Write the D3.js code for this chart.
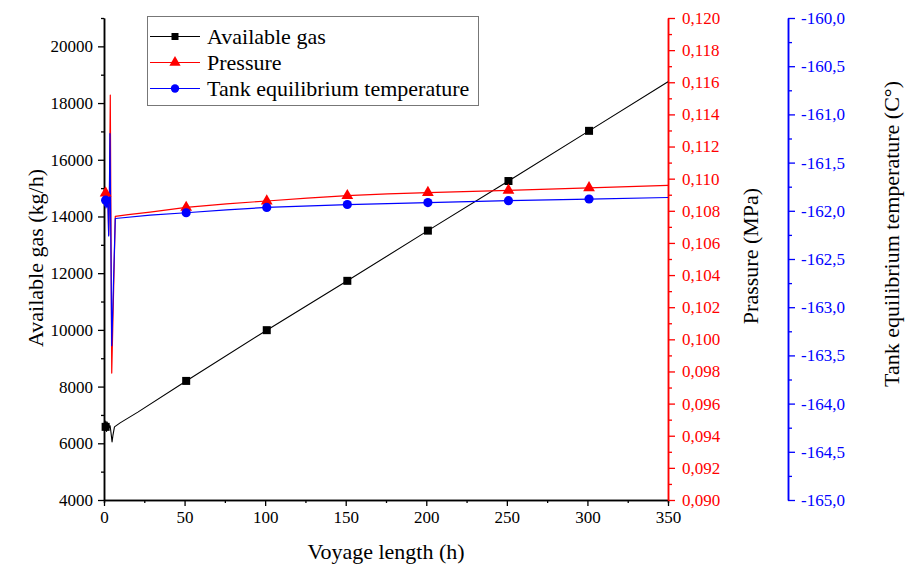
<!DOCTYPE html>
<html><head><meta charset="utf-8">
<script src="https://cdn.jsdelivr.net/npm/d3@7"></script>
<style>
html,body{margin:0;padding:0;background:#fff;}
svg{display:block;}
svg text{font-family:"Liberation Serif","Tinos","DejaVu Serif",serif;}
</style></head>
<body>
<svg id="chart" width="906" height="570"></svg>
<script>
// ---- data ----
const gasHours  = [0, 0.4, 0.8, 1, 1.2, 1.6, 2.0, 2.4, 2.8, 3.3, 3.8, 4.4, 5.0, 5.6, 6.5, 10, 21, 51, 101, 151, 201, 251, 301, 350];
const gasValues = [6600, 6820, 6450, 6580, 6780, 6420, 6750, 6480, 6700, 6550, 6620, 6350, 6050, 6300, 6580, 6720, 7100, 8200, 9990, 11730, 13500, 15250, 17020, 18750];

const presHours  = [0, 0.4, 0.8, 1, 1.2, 1.6, 2.0, 2.4, 2.9, 3.4, 3.9, 4.8, 7, 15, 28.6, 51, 76, 101, 126, 151, 176, 201, 251, 301, 350];
const presValues = [0.1092, 0.1086, 0.1093, 0.1091, 0.1087, 0.1092, 0.1088, 0.1091, 0.1065, 0.1090, 0.1152, 0.0979, 0.10765, 0.10776, 0.10792, 0.10821, 0.10843, 0.10861, 0.10879, 0.10894, 0.10905, 0.10913, 0.10927, 0.10943, 0.10958];

const tempHours  = [0, 0.4, 0.8, 1, 1.2, 1.6, 2.0, 2.4, 2.9, 3.3, 3.7, 4.8, 7, 28.6, 51, 76, 101, 151, 201, 251, 301, 350];
const tempValues = [-161.86, -161.95, -161.84, -161.89, -161.97, -161.88, -161.96, -161.90, -162.26, -161.90, -161.20, -163.40, -162.08, -162.045, -162.02, -161.99, -161.965, -161.935, -161.915, -161.895, -161.878, -161.862];

const markerHours = [1, 51, 101, 151, 201, 251, 301];

const xTicks     = [0, 50, 100, 150, 200, 250, 300, 350];
const xMinor     = [25, 75, 125, 175, 225, 275, 325];
const gasTicks   = [4000, 6000, 8000, 10000, 12000, 14000, 16000, 18000, 20000];
const gasMinor   = [5000, 7000, 9000, 11000, 13000, 15000, 17000, 19000, 21000];
const presTicks  = d3.range(0, 16).map(i => +(0.090 + i * 0.002).toFixed(3));
const presMinor  = d3.range(0, 15).map(i => +(0.091 + i * 0.002).toFixed(3));
const tempTicks  = d3.range(0, 11).map(i => +(-165 + i * 0.5).toFixed(1));
const tempMinor  = d3.range(0, 10).map(i => +(-164.75 + i * 0.5).toFixed(2));

const legendLabels = ["Available gas", "Pressure", "Tank equilibrium temperature"];
const xTitle = "Voyage length (h)";
const gasTitle = "Available gas (kg/h)";
const presTitle = "Prassure (MPa)";
const tempTitle = "Tank equilibrium temperature (C°)";

// ---- layout ----
const FONT = '"Liberation Serif","Tinos","DejaVu Serif",serif';
const L = 104, R = 668, T = 18, B = 500, TX = 788;
const svg = d3.select("#chart");
const x = d3.scaleLinear().domain([0, 350]).range([L, R]);
const yGas = d3.scaleLinear().domain([4000, 21000]).range([B, T]);
const yPres = d3.scaleLinear().domain([0.090, 0.120]).range([B, T]);
const yTemp = d3.scaleLinear().domain([-165, -160]).range([B, T]);

const loc = d3.formatLocale({decimal: ",", thousands: "", grouping: [3], currency: ["", ""], minus: "-"});
const fPres = loc.format(".3f");
const fTemp = loc.format(".1f");

const FS = 17;
function styleAxis(g, color, fs) {
  g.attr("font-family", FONT);
  g.select(".domain").attr("stroke", color).attr("stroke-width", 1.5);
  g.selectAll(".tick line").attr("stroke", color).attr("stroke-width", 1.3);
  g.selectAll(".tick text").attr("fill", color).attr("font-size", fs);
}

// x axis
let g = svg.append("g").attr("transform", `translate(0,${B})`)
  .call(d3.axisBottom(x).tickValues(xMinor).tickSize(3).tickFormat(""));
styleAxis(g, "#000", FS);
g = svg.append("g").attr("transform", `translate(0,${B})`)
  .call(d3.axisBottom(x).tickValues(xTicks).tickSize(6).tickSizeOuter(0).tickPadding(5).tickFormat(d3.format("d")));
styleAxis(g, "#000", FS);

// left gas axis
g = svg.append("g").attr("transform", `translate(${L},0)`)
  .call(d3.axisLeft(yGas).tickValues(gasMinor).tickSize(3).tickSizeOuter(0).tickFormat(""));
styleAxis(g, "#000", FS);
g = svg.append("g").attr("transform", `translate(${L},0)`)
  .call(d3.axisLeft(yGas).tickValues(gasTicks).tickSize(6).tickSizeOuter(0).tickPadding(5).tickFormat(d3.format("d")));
styleAxis(g, "#000", FS);

// red pressure axis
g = svg.append("g").attr("transform", `translate(${R},0)`)
  .call(d3.axisRight(yPres).tickValues(presMinor).tickSize(4).tickSizeOuter(0).tickFormat(""));
styleAxis(g, "#ff0000", FS);
g = svg.append("g").attr("transform", `translate(${R},0)`)
  .call(d3.axisRight(yPres).tickValues(presTicks).tickSize(7).tickSizeOuter(0).tickPadding(7).tickFormat(fPres));
styleAxis(g, "#ff0000", FS);

// blue temperature axis
g = svg.append("g").attr("transform", `translate(${TX},0)`)
  .call(d3.axisRight(yTemp).tickValues(tempMinor).tickSize(4).tickSizeOuter(0).tickFormat(""));
styleAxis(g, "#0000ff", FS);
g = svg.append("g").attr("transform", `translate(${TX},0)`)
  .call(d3.axisRight(yTemp).tickValues(tempTicks).tickSize(7).tickSizeOuter(0).tickPadding(6).tickFormat(fTemp));
styleAxis(g, "#0000ff", FS);

// titles
const TFS = 22;
svg.append("text").attr("x", (L + R) / 2).attr("y", 559).attr("text-anchor", "middle")
  .attr("font-size", TFS).text(xTitle);
function vTitle(cx, cy, txt) {
  svg.append("text").attr("transform", `translate(${cx},${cy}) rotate(-90)`)
    .attr("text-anchor", "middle").attr("dy", "0.35em").attr("font-size", TFS).text(txt);
}
vTitle(35, 258, gasTitle);
vTitle(750, 256, presTitle);
vTitle(891, 234, tempTitle);

// lines
function drawSeries(hours, values, yScale, color, width) {
  const pts = hours.map((h, i) => [h, values[i]]);
  svg.append("path").datum(pts)
    .attr("fill", "none").attr("stroke", color).attr("stroke-width", width)
    .attr("stroke-linejoin", "round")
    .attr("d", d3.line().x(d => x(d[0])).y(d => yScale(d[1])));
  return pts.filter(p => markerHours.includes(p[0]));
}
const gasM = drawSeries(gasHours, gasValues, yGas, "#000", 1.1);
const presM = drawSeries(presHours, presValues, yPres, "#ff0000", 1.2);
const tempM = drawSeries(tempHours, tempValues, yTemp, "#0000ff", 1.2);

const sq = d3.symbol().type(d3.symbolSquare).size(64);
const tri = d3.symbol().type(d3.symbolTriangle).size(60);
const cir = d3.symbol().type(d3.symbolCircle).size(66);

svg.append("g").selectAll("path").data(gasM).join("path")
  .attr("transform", d => `translate(${x(d[0])},${yGas(d[1])})`).attr("d", sq).attr("fill", "#000");
svg.append("g").selectAll("path").data(presM).join("path")
  .attr("transform", d => `translate(${x(d[0])},${yPres(d[1])})`).attr("d", tri).attr("fill", "#ff0000");
svg.append("g").selectAll("path").data(tempM).join("path")
  .attr("transform", d => `translate(${x(d[0])},${yTemp(d[1])})`).attr("d", cir).attr("fill", "#0000ff");

// legend
const lg = svg.append("g");
lg.append("rect").attr("x", 147.5).attr("y", 16.5).attr("width", 331).attr("height", 89)
  .attr("fill", "#fff").attr("stroke", "#777").attr("stroke-width", 1);
const legColors = ["#000", "#ff0000", "#0000ff"];
const legSyms = [d3.symbol().type(d3.symbolSquare).size(49), d3.symbol().type(d3.symbolTriangle).size(55), d3.symbol().type(d3.symbolCircle).size(55)];
const rowY = [36.5, 62.5, 88.5];
legendLabels.forEach((lab, i) => {
  lg.append("line").attr("x1", 150).attr("x2", 200).attr("y1", rowY[i]).attr("y2", rowY[i])
    .attr("stroke", legColors[i]).attr("stroke-width", 1.2);
  lg.append("path").attr("transform", `translate(175,${rowY[i]})`).attr("d", legSyms[i]).attr("fill", legColors[i]);
  lg.append("text").attr("x", 207).attr("y", rowY[i]).attr("dy", "0.35em").attr("font-size", 22).text(lab);
});
</script>
</body></html>
